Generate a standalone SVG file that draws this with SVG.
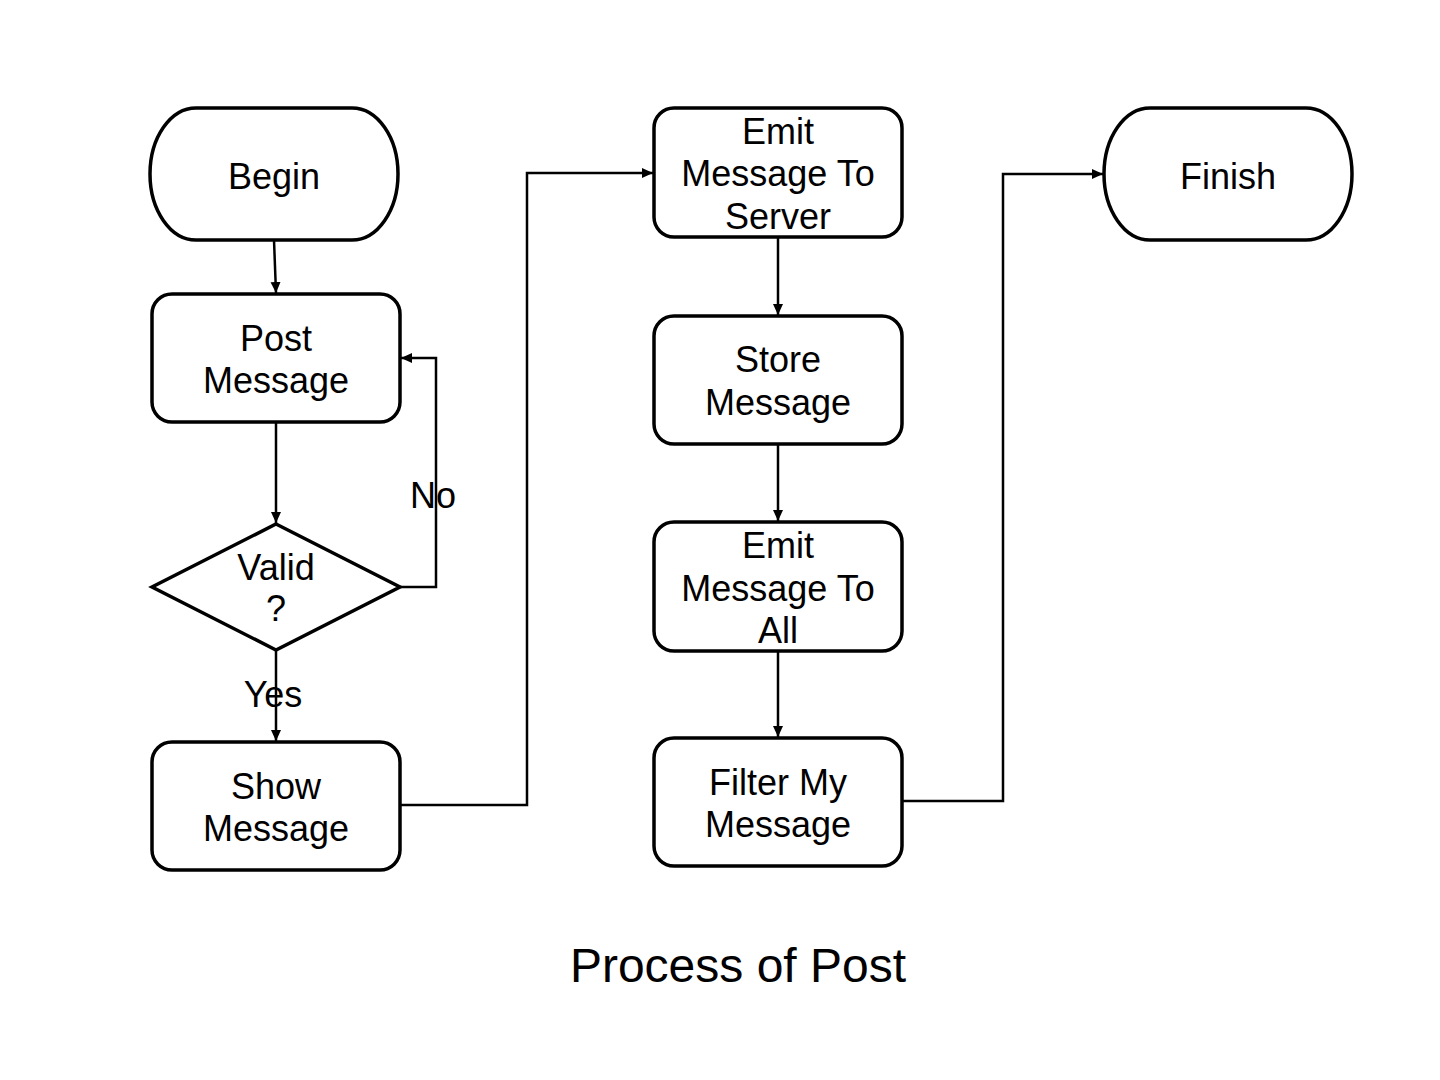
<svg xmlns="http://www.w3.org/2000/svg" width="1440" height="1080" viewBox="0 0 1440 1080">
<style>
.shape{fill:#fff;stroke:#000;stroke-width:3.5}
.t{font-family:"Liberation Sans",Arial,sans-serif;font-size:36px;fill:#000;text-anchor:middle}
.c{fill:none;stroke:#000;stroke-width:2.5}
.title{font-family:"Liberation Sans",Arial,sans-serif;font-size:48px;fill:#000;text-anchor:middle}
</style>
<defs>
<marker id="arr" markerUnits="userSpaceOnUse" markerWidth="14" markerHeight="12" refX="11" refY="5" orient="auto">
<path d="M0,0 L11,5 L0,10 z" fill="#000"/>
</marker>
</defs>
<rect width="1440" height="1080" fill="#fff"/>
<g id="connectors">
<path class="c" d="M274,240 L276,293" marker-end="url(#arr)"/>
<path class="c" d="M276,422 V523" marker-end="url(#arr)"/>
<path class="c" d="M400,587 H436 V358 H401" marker-end="url(#arr)"/>
<path class="c" d="M276,650 V741" marker-end="url(#arr)"/>
<path class="c" d="M400,805 H527 V173 H653" marker-end="url(#arr)"/>
<path class="c" d="M778,237 V315" marker-end="url(#arr)"/>
<path class="c" d="M778,444 V521" marker-end="url(#arr)"/>
<path class="c" d="M778,651 V737" marker-end="url(#arr)"/>
<path class="c" d="M902,801 H1003 V174 H1103" marker-end="url(#arr)"/>
</g>
<g id="begin">
<rect class="shape" x="150" y="108" width="248" height="132" rx="46" ry="66"/>
<text class="t" x="274" y="189">Begin</text>
</g>
<g id="post-message">
<rect class="shape" x="152" y="294" width="248" height="128" rx="20"/>
<text class="t" x="276" y="351">Post</text>
<text class="t" x="276" y="393">Message</text>
</g>
<g id="valid">
<polygon class="shape" points="276,524 400,587 276,650 152,587"/>
<text class="t" x="276" y="580">Valid</text>
<text class="t" x="276" y="621">?</text>
</g>
<g id="label-no"><text class="t" x="433" y="508">No</text></g>
<g id="label-yes"><text class="t" x="273" y="707">Yes</text></g>
<g id="show-message">
<rect class="shape" x="152" y="742" width="248" height="128" rx="20"/>
<text class="t" x="276" y="799">Show</text>
<text class="t" x="276" y="841">Message</text>
</g>
<g id="emit-server">
<rect class="shape" x="654" y="108" width="248" height="129" rx="20"/>
<text class="t" x="778" y="144">Emit</text>
<text class="t" x="778" y="186">Message To</text>
<text class="t" x="778" y="229">Server</text>
</g>
<g id="store-message">
<rect class="shape" x="654" y="316" width="248" height="128" rx="20"/>
<text class="t" x="778" y="372">Store</text>
<text class="t" x="778" y="415">Message</text>
</g>
<g id="emit-all">
<rect class="shape" x="654" y="522" width="248" height="129" rx="20"/>
<text class="t" x="778" y="558">Emit</text>
<text class="t" x="778" y="601">Message To</text>
<text class="t" x="778" y="643">All</text>
</g>
<g id="filter-message">
<rect class="shape" x="654" y="738" width="248" height="128" rx="20"/>
<text class="t" x="778" y="795">Filter My</text>
<text class="t" x="778" y="837">Message</text>
</g>
<g id="finish">
<rect class="shape" x="1104" y="108" width="248" height="132" rx="46" ry="66"/>
<text class="t" x="1228" y="189">Finish</text>
</g>
<text class="title" x="738" y="982">Process of Post</text>
</svg>
